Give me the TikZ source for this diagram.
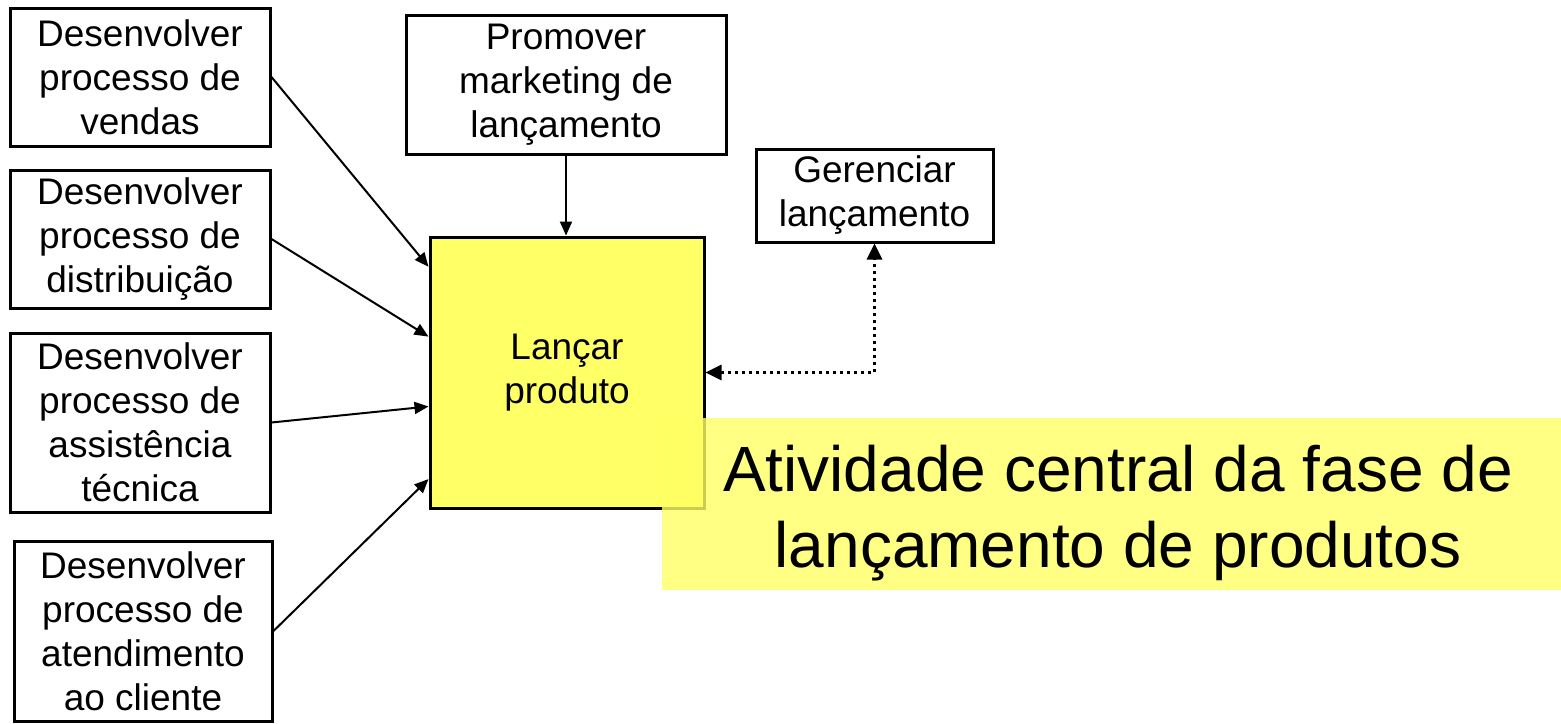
\documentclass[tikz,border=0pt]{standalone}
\usepackage{fontspec}
\setmainfont{Liberation Sans}
\usetikzlibrary{calc,arrows.meta}

\definecolor{boxyellow}{RGB}{255,255,102}
\definecolor{markyellow}{RGB}{255,255,100}

\tikzset{
    proc/.style={draw, line width=1.5pt, align=center, inner sep=0pt,
        font=\fontsize{18.5}{22}\selectfont},
    link/.style={line width=1pt, -{Triangle[length=7pt,width=6pt]}},
    dotlink/.style={line width=1.5pt, dash pattern=on 1.5pt off 2pt,
        {Triangle[length=8pt,width=7.5pt]}-{Triangle[length=8pt,width=7.5pt]}},
}

\begin{document}
\begin{tikzpicture}[x=0.5pt, y=-0.5pt]
\useasboundingbox (0,0) rectangle (1561,723);
\node[proc, minimum width=130pt, minimum height=69pt] (vendas) at (140,77) {Desenvolver\\processo de\\vendas};
\node[proc, minimum width=130pt, minimum height=69pt] (distrib) at (140,239) {Desenvolver\\processo de\\distribuição};
\node[proc, minimum width=130pt, minimum height=89.5pt] (assist) at (140,422.5) {Desenvolver\\processo de\\assistência\\técnica};
\node[proc, minimum width=129pt, minimum height=90pt] (atend) at (143,631) {Desenvolver\\processo de\\atendimento\\ao cliente};
\node[proc, minimum width=160pt, minimum height=69.5pt] (promover) at (566,84.5) {Promover\\marketing de\\lançamento};
\node[proc, minimum width=118.5pt, minimum height=46.5pt] (gerenciar) at (874.5,195.5) {Gerenciar\\lançamento};
\node[proc, fill=boxyellow, minimum width=137pt, minimum height=135.5pt] (lancar) at (567,372.5) {Lançar\\produto};

\draw[link] (vendas.east) -- ($(lancar.north west)!0.114!(lancar.south west)$);
\draw[link] (distrib.east) -- ($(lancar.north west)!0.369!(lancar.south west)$);
\draw[link] (assist.east) -- ($(lancar.north west)!0.624!(lancar.south west)$);
\draw[link] (atend.east) -- ($(lancar.north west)!0.889!(lancar.south west)$);
\draw[link] (promover.south) -- (promover.south |- lancar.north);
\draw[dotlink] (lancar.east) -| (gerenciar.south);

% caixa de destaque
\fill[markyellow, fill opacity=0.8] (662,418) rectangle (1561,590);
\node[align=center, inner sep=0pt, font=\fontsize{32}{38}\selectfont] (destaque) at (1118,513)
    {Atividade central da fase de\\lançamento de produtos};
\end{tikzpicture}
\end{document}
